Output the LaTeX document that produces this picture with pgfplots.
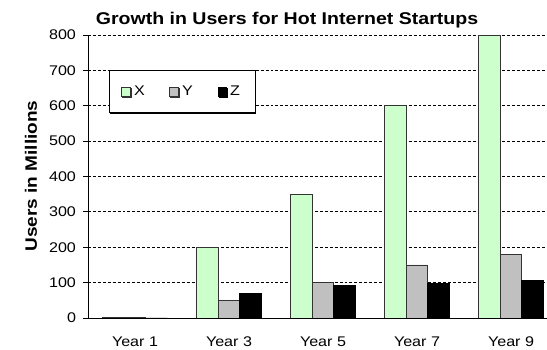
\documentclass[border=0pt]{standalone}
\usepackage{pgfplots}
\pgfplotsset{compat=1.18}
\usepackage{fontspec}
\setmainfont[FakeStretch=1.15]{Liberation Sans}
\usetikzlibrary{shadows}
\definecolor{cx}{HTML}{CCFFCC}
\definecolor{cy}{HTML}{C0C0C0}
\begin{document}
\begin{tikzpicture}[x=0.75pt,y=0.75pt]
\path[use as bounding box] (0,0) rectangle (547,350);
\begin{axis}[
  at={(66pt,24pt)}, anchor=south west,
  scale only axis, width=344.25pt, height=212.25pt,
  xmin=-0.5, xmax=4.383, ymin=0, ymax=800,
  clip=true,
  axis x line=bottom, axis y line=left,
  axis line style={-, black, line width=0.6pt},
  xtick={0,1,2,3,4},
  xticklabels={Year 1,Year 3,Year 5,Year 7,Year 9},
  extra x ticks={0.5,1.5,2.5,3.5},
  extra x tick labels={},
  extra x tick style={major tick length=4pt, tick style={black, line width=0.6pt}, grid=none},
  major x tick style={draw=none},
  xtick align=outside,
  ytick={0,100,...,800},
  ytick align=outside,
  major tick length=3.5pt,
  y tick style={black, line width=0.6pt},
  ymajorgrids,
  major grid style={black, dash pattern=on 2.2pt off 1.5pt, line width=0.6pt},
  tick label style={font=\fontsize{10.5}{12}\selectfont},
  /pgf/number format/assume math mode=true,
  xticklabel style={yshift=-7pt},
  yticklabel style={xshift=-2pt},
  legend style={at={(0.0458,0.876)}, anchor=north west, draw=black, fill=white,
    line width=0.5pt, font=\fontsize{10.5}{12}\selectfont,
    drop shadow={shadow xshift=0.8pt, shadow yshift=-0.8pt, fill=black, opacity=1},
    inner xsep=9pt, inner ysep=9.5pt,
    nodes={inner xsep=2.5pt},
    /tikz/every even column/.append style={column sep=16pt}},
  legend columns=3,
  legend image code/.code={\draw[#1, line width=0.5pt] (0pt,-3.2pt) rectangle (6.5pt,3.2pt);},
]
\addplot[ybar, bar width=0.229, bar shift=-0.229, fill=cx, draw=black!80, line width=0.6pt]
  coordinates {(0,2) (1,200) (2,350) (3,600) (4,800)};
\addplot[ybar, bar width=0.229, bar shift=0, fill=cy, draw=black!80, line width=0.6pt]
  coordinates {(0,2) (1,50) (2,100) (3,150) (4,180)};
\addplot[ybar, bar width=0.229, bar shift=0.229, fill=black, draw=black, line width=0.6pt]
  coordinates {(0,0) (1,70) (2,93) (3,97) (4,105)};
\legend{X,Y,Z}
\end{axis}
\node[font=\bfseries\fontsize{12.75}{14}\selectfont] at (287,330) {Growth in Users for Hot Internet Startups};
\node[font=\bfseries\fontsize{12.4}{14}\selectfont, rotate=90] at (31,174) {Users in Millions};
\end{tikzpicture}
\end{document}
